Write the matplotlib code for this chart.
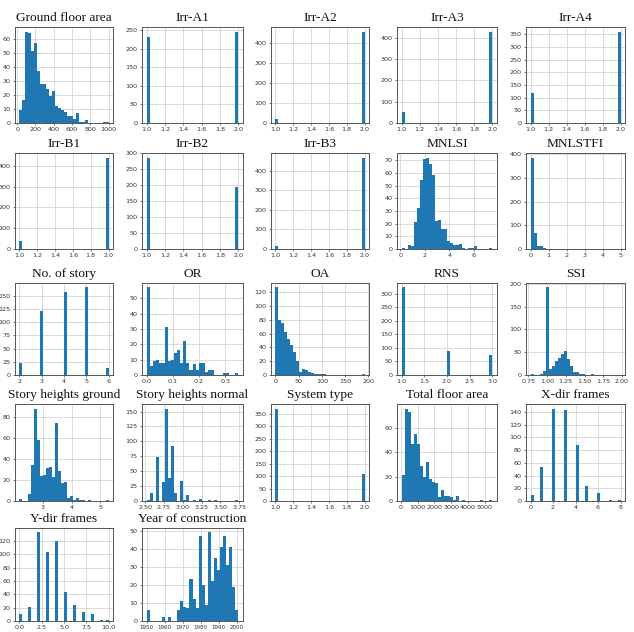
import numpy as np
import matplotlib
matplotlib.use("Agg")
import matplotlib.pyplot as plt
from matplotlib.ticker import MultipleLocator

# ---------------- data ----------------
titles = ["Ground floor area", "Irr-A1", "Irr-A2", "Irr-A3", "Irr-A4",
          "Irr-B1", "Irr-B2", "Irr-B3", "MNLSI", "MNLSTFI",
          "No. of story", "OR", "OA", "RNS", "SSI",
          "Story heights ground", "Story heights normal", "System type",
          "Total floor area", "X-dir frames",
          "Y-dir frames", "Year of construction"]

# discrete variables: category values and counts
binary_vals = [1.0, 2.0]
irr_a1 = [233, 247]
irr_a2 = [20, 460]
irr_a3 = [52, 428]
irr_a4 = [120, 360]
irr_b1 = [40, 440]
irr_b2 = [287, 195]
irr_b3 = [13, 468]
system_type = [372, 110]
story_vals = [2, 3, 4, 5, 6]
story_counts = [23, 121, 157, 166, 14]
rns_vals = [1, 2, 3]
rns_counts = [323, 87, 72]
xdir_vals = [0, 1, 2, 3, 4, 5, 6, 7, 8]
xdir_counts = [10, 53, 145, 143, 88, 24, 12, 2, 1]
ydir_vals = [0, 1, 2, 3, 4, 5, 6, 7, 8, 9, 10]
ydir_counts = [10, 21, 133, 103, 120, 43, 24, 14, 10, 1, 2]

# continuous variables: data range and counts in 30 equal bins
gfa_range = (25, 1000)
gfa_counts = [9, 16, 65, 64, 51, 57, 37, 28, 28, 24, 19, 23, 12, 11, 9,
              8, 5, 5, 3, 7, 1, 1, 2, 0, 0, 0, 0, 0, 1, 1]
mnlsi_range = (0.1, 7.5)
mnlsi_counts = [1, 0, 3, 2, 21, 32, 54, 71, 72, 67, 58, 22, 23, 16, 16,
                6, 5, 3, 3, 4, 1, 0, 1, 1, 2, 0, 0, 0, 0, 1]
mnlstfi_range = (0.0, 5.0)
mnlstfi_counts = [385, 68, 13, 12, 3, 2, 1, 0, 1, 1, 0, 1, 0, 0, 0,
                  0, 0, 0, 1, 1, 0, 0, 0, 0, 0, 0, 0, 0, 0, 1]
or_range = (0.0, 0.35)
or_counts = [57, 6, 9, 10, 8, 8, 31, 9, 10, 14, 16, 8, 22, 8, 3,
             7, 3, 8, 8, 2, 3, 3, 0, 0, 0, 1, 1, 0, 0, 1]
oa_range = (0.0, 192.0)
oa_counts = [127, 79, 76, 62, 52, 44, 34, 20, 5, 8, 7, 5, 3, 2, 1,
             1, 1, 0, 0, 0, 0, 0, 0, 0, 0, 0, 0, 0, 0, 1]
ssi_range = (0.78, 1.98)
ssi_counts = [2, 0, 0, 3, 8, 192, 13, 20, 30, 38, 46, 53, 36, 20, 7,
              7, 3, 3, 1, 0, 2, 0, 0, 0, 0, 0, 0, 0, 0, 1]
shg_range = (2.2, 5.28)
shg_counts = [2, 0, 0, 7, 34, 88, 58, 24, 25, 31, 32, 23, 74, 29, 17,
              18, 3, 5, 1, 3, 1, 1, 0, 1, 0, 0, 0, 0, 0, 1]
shn_range = (2.52, 3.74)
shn_counts = [1, 13, 0, 74, 0, 32, 155, 38, 93, 14, 0, 34, 2, 10, 0,
              2, 0, 4, 0, 0, 1, 0, 1, 0, 0, 0, 0, 0, 0, 1]
tfa_range = (40, 5450)
tfa_counts = [21, 76, 73, 47, 55, 47, 29, 20, 32, 18, 16, 15, 3, 9, 4,
              4, 3, 1, 4, 0, 1, 0, 0, 0, 0, 0, 1, 0, 0, 1]
year_range = (1950, 2001)
year_counts = [6, 0, 0, 0, 0, 2, 0, 2, 0, 0, 6, 11, 8, 7, 23,
               12, 7, 47, 20, 9, 49, 22, 35, 28, 41, 47, 31, 41, 19, 6]

x_steps = [200, 0.2, 0.2, 0.2, 0.2, 0.2, 0.2, 0.2, 2, 1,
           1, 0.1, 50, 0.5, 0.25, 1, 0.25, 0.2, 1000, 2, 2.5, 10]
y_steps = [10, 50, 100, 100, 50, 100, 50, 100, 10, 100,
           25, 10, 20, 50, 50, 20, 25, 50, 20, 20, 20, 10]

discrete = {
    1: (binary_vals, irr_a1), 2: (binary_vals, irr_a2), 3: (binary_vals, irr_a3),
    4: (binary_vals, irr_a4), 5: (binary_vals, irr_b1), 6: (binary_vals, irr_b2),
    7: (binary_vals, irr_b3), 10: (story_vals, story_counts), 13: (rns_vals, rns_counts),
    17: (binary_vals, system_type), 19: (xdir_vals, xdir_counts), 20: (ydir_vals, ydir_counts),
}
continuous = {
    0: (gfa_range, gfa_counts), 8: (mnlsi_range, mnlsi_counts), 9: (mnlstfi_range, mnlstfi_counts),
    11: (or_range, or_counts), 12: (oa_range, oa_counts), 14: (ssi_range, ssi_counts),
    15: (shg_range, shg_counts), 16: (shn_range, shn_counts), 18: (tfa_range, tfa_counts),
    21: (year_range, year_counts),
}

# ---------------- layout ----------------
W, H = 634, 632
fig = plt.figure(figsize=(W / 100, H / 100), dpi=100)
col_x = [(15, 113), (142, 243), (271, 369), (397, 497), (526, 625)]
row_y = [(27, 123), (153, 249), (283, 375), (404, 501), (528, 621)]

bar_color = "#1f77b4"
for i, title in enumerate(titles):
    r, c = divmod(i, 5)
    x0, x1 = col_x[c]
    y0, y1 = row_y[r]
    ax = fig.add_axes([x0 / W, 1 - y1 / H, (x1 - x0) / W, (y1 - y0) / H])
    ax.set_axisbelow(True)
    if i in discrete:
        vals, cnts = discrete[i]
        ax.hist(vals, bins=30, weights=cnts, color=bar_color)
    else:
        (lo, hi), cnts = continuous[i]
        edges = np.linspace(lo, hi, 31)
        centers = (edges[:-1] + edges[1:]) / 2
        ax.hist(centers, bins=edges, weights=cnts, color=bar_color)
    ax.xaxis.set_major_locator(MultipleLocator(x_steps[i]))
    ax.yaxis.set_major_locator(MultipleLocator(y_steps[i]))
    ax.grid(True, color="#d4d4d4", linewidth=0.6)
    for s in ax.spines.values():
        s.set_color("#555555")
        s.set_linewidth(0.7)
    xl = 4.0 if i == 21 else 4.6
    ax.tick_params(axis="x", labelsize=xl)
    ax.tick_params(labelsize=4.6, length=1.5, width=0.5, pad=1.5,
                   colors="#444444", labelcolor="#333333")
    if i == 21:
        ax.tick_params(axis="x", labelsize=4.0)
    ax.set_title(title, fontsize=9.6, family="Liberation Serif", pad=4, color="#111111")

fig.savefig("out.png", dpi=100)
